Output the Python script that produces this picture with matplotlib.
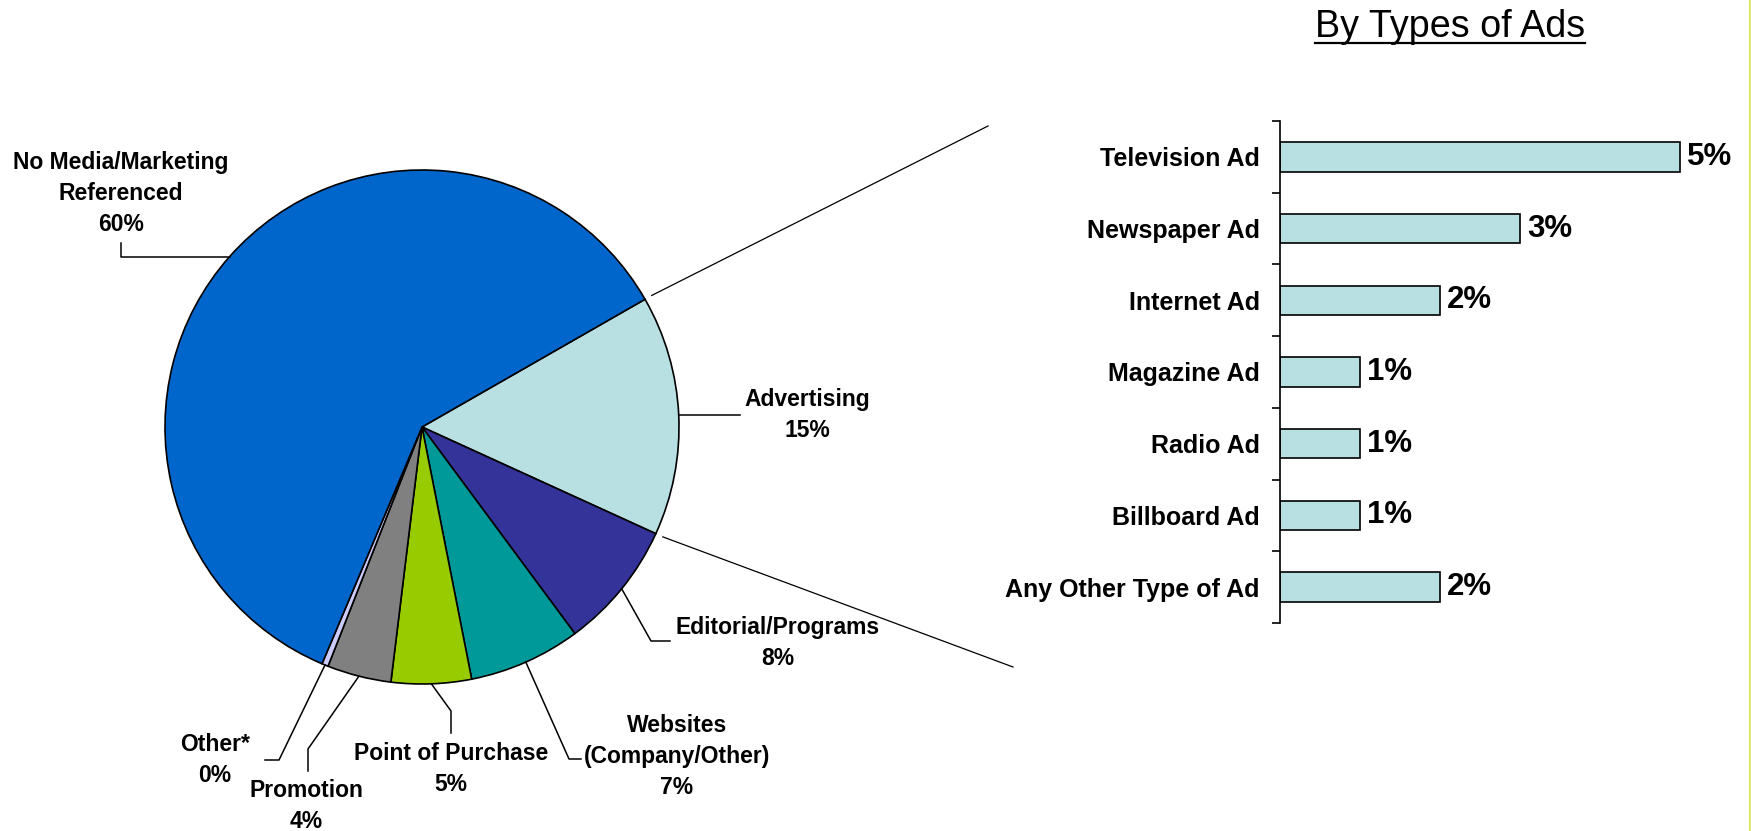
import numpy as np
import matplotlib
matplotlib.use("Agg")
import matplotlib.pyplot as plt
from matplotlib.lines import Line2D

# ---- data ----
pie_labels = ["Advertising", "Editorial/Programs", "Websites\n(Company/Other)",
              "Point of Purchase", "Promotion", "Other*",
              "No Media/Marketing\nReferenced"]
pie_values = [15, 8, 7, 5, 4, 0.4, 60]
pie_colors = ["#B8E0E3", "#333399", "#009999", "#99CC00", "#808080",
              "#CCCCFF", "#0066CC"]

ad_types = ["Television Ad", "Newspaper Ad", "Internet Ad", "Magazine Ad",
            "Radio Ad", "Billboard Ad", "Any Other Type of Ad"]
ad_values = [5, 3, 2, 1, 1, 1, 2]

W, H = 1751, 831
DPI = 100
fig = plt.figure(figsize=(W / DPI, H / DPI), dpi=DPI)
fig.patch.set_facecolor("white")
FONT = "Liberation Sans"


def px_box(x0, y0, x1, y1):
    """Axes rectangle from pixel corners (top-left origin)."""
    return [x0 / W, 1 - y1 / H, (x1 - x0) / W, (y1 - y0) / H]


# ---- pie ----
cx, cy, R = 422, 427, 257
axp = fig.add_axes(px_box(cx - R, cy - R, cx + R, cy + R))
wedges, _ = axp.pie(pie_values, colors=pie_colors, startangle=29.8,
                    counterclock=False, radius=1.0,
                    wedgeprops=dict(edgecolor="black", linewidth=1.2))
axp.set_xlim(-1, 1)
axp.set_ylim(-1, 1)
axp.set_aspect("equal")
axp.axis("off")


def d(px, py):
    return ((px - cx) / R, (cy - py) / R)


# label text positions (pixel top of text block) and leader elbows;
# a None y keeps the segment level with the wedge edge point
label_layout = {
    "Advertising": dict(text=(807, 388), path=[(740, None)]),
    "Editorial/Programs": dict(text=(778, 616), path=[(651, 641), (670, 641)]),
    "Websites\n(Company/Other)": dict(text=(677, 714), path=[(569, 759), (581, 759)]),
    "Point of Purchase": dict(text=(451, 742), path=[(451, 711), (451, 733)]),
    "Promotion": dict(text=(306, 779), path=[(308, 749), (308, 771)]),
    "Other*": dict(text=(215, 733), path=[(279, 760), (265, 760)]),
    "No Media/Marketing\nReferenced": dict(text=(121, 151), path=[(121, None), (121, 243)]),
}

for w, lab, val in zip(wedges, pie_labels, pie_values):
    mid = np.deg2rad((w.theta1 + w.theta2) / 2)
    ex, ey = np.cos(mid), np.sin(mid)
    lay = label_layout[lab]
    pts = [(ex, ey)]
    for px, py in lay["path"]:
        if py is None:
            pts.append((d(px, 0)[0], ey))
        else:
            pts.append(d(px, py))
    xs, ys = zip(*pts)
    axp.add_line(Line2D(xs, ys, color="black", lw=1.1, clip_on=False))
    tx, ty = d(*lay["text"])
    axp.text(tx, ty, f"{lab}\n{round(val)}%", ha="center", va="top",
             fontsize=16.5, fontweight="bold", family=FONT,
             linespacing=1.45, clip_on=False)

# connector lines from the advertising wedge to the breakdown
adv = wedges[0]
for ang, end in ((adv.theta2, (988, 126)), (adv.theta1, (1013, 667))):
    a = np.deg2rad(ang)
    ex, ey = d(*end)
    axp.add_line(Line2D([1.03 * np.cos(a), ex], [1.03 * np.sin(a), ey],
                        color="black", lw=0.9, clip_on=False))

# ---- bar chart ----
axb = fig.add_axes(px_box(1280, 121, 1760, 623))
ypos = np.arange(len(ad_types))
axb.barh(ypos, ad_values, height=0.41, color="#B8E0E3",
         edgecolor="black", linewidth=1.2)
axb.set_xlim(0, 6)
axb.set_ylim(len(ad_types) - 0.5, -0.5)
for s in ("top", "right", "bottom"):
    axb.spines[s].set_visible(False)
axb.spines["left"].set_linewidth(1.2)
axb.xaxis.set_visible(False)
axb.set_yticks(ypos)
axb.set_yticklabels(ad_types, fontsize=18, fontweight="bold", family=FONT)
axb.tick_params(axis="y", which="major", length=0, pad=14.5)
axb.set_yticks(np.arange(-0.5, len(ad_types)), minor=True)
axb.tick_params(axis="y", which="minor", length=6, width=1.2, direction="out")
axb.patch.set_alpha(0)
for y, v in zip(ypos, ad_values):
    axb.annotate(f"{v}%", (v, y), xytext=(7, 0), textcoords="offset pixels",
                 ha="left", va="center", fontsize=22.5, fontweight="bold",
                 family=FONT)

# ---- title with underline ----
title = fig.text(1450 / W, 1 - 37 / H, "By Types of Ads", ha="center",
                 va="baseline", fontsize=27.2, family=FONT)
fig.canvas.draw()
bb = title.get_window_extent()
fig.add_artist(Line2D([bb.x0 / W, bb.x1 / W], [1 - 43 / H, 1 - 43 / H],
                      color="black", lw=1.6, transform=fig.transFigure))

# thin accent rule along the right edge
fig.add_artist(Line2D([1749.5 / W, 1749.5 / W], [0, 1], color="#DDE870",
                      lw=2.4, transform=fig.transFigure))

fig.savefig("out.png", dpi=DPI, facecolor="white")
